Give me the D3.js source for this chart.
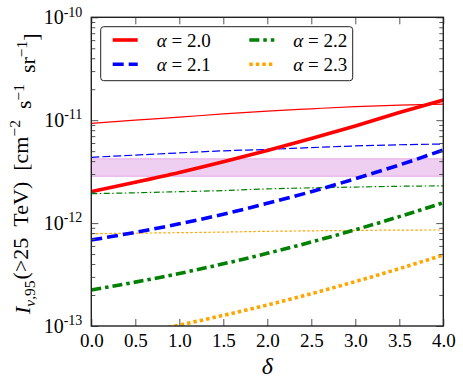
<!DOCTYPE html>
<html lang="en">
<head>
<meta charset="UTF-8">
<title>I_nu,95 vs delta</title>
<script src="https://cdn.jsdelivr.net/npm/d3@7/dist/d3.min.js"></script>
<style>
  body { margin: 0; background: #fff; }
  text { font-family: "Liberation Serif", "Times New Roman", serif; }
</style>
</head>
<body>
<script>
// delta grid
var deltas = [0, 0.5, 1.0, 1.5, 2.0, 2.5, 3.0, 3.5, 4.0];

// thick curves
var thick20 = [2.02e-12, 2.49e-12, 3.10e-12, 3.94e-12, 5.07e-12, 6.64e-12, 8.79e-12, 1.186e-11, 1.57e-11];
var thick21 = [6.85e-13, 8.13e-13, 9.84e-13, 1.22e-12, 1.556e-12, 2.02e-12, 2.70e-12, 3.67e-12, 5.13e-12];
var thick22 = [2.24e-13, 2.67e-13, 3.24e-13, 4.02e-13, 5.08e-13, 6.55e-13, 8.61e-13, 1.156e-12, 1.578e-12];
var thick23 = [7.03e-14, 8.39e-14, 1.02e-13, 1.27e-13, 1.60e-13, 2.06e-13, 2.70e-13, 3.61e-13, 4.90e-13];

// thin curves
var thin20 = [9.33e-12, 1.0e-11, 1.07e-11, 1.15e-11, 1.225e-11, 1.29e-11, 1.355e-11, 1.40e-11, 1.435e-11];
var thin21 = [4.36e-12, 4.58e-12, 4.81e-12, 5.04e-12, 5.20e-12, 5.42e-12, 5.62e-12, 5.77e-12, 5.87e-12];
var thin22 = [1.93e-12, 1.97e-12, 2.02e-12, 2.07e-12, 2.15e-12, 2.20e-12, 2.24e-12, 2.28e-12, 2.30e-12];
var thin23 = [7.89e-13, 7.98e-13, 8.07e-13, 8.18e-13, 8.32e-13, 8.41e-13, 8.49e-13, 8.55e-13, 8.57e-13];

// shaded band
var band = [2.85e-12, 4.22e-12];

var alphaLabels = ["2.0", "2.1", "2.2", "2.3"];
var colors = ["#ff0000", "#0000ff", "#008000", "#ffa500"];
var xTicks = [0, 0.5, 1.0, 1.5, 2.0, 2.5, 3.0, 3.5, 4.0];
var yMajor = [1e-13, 1e-12, 1e-11, 1e-10];

var W = 463, H = 388;
var m = {left: 91.3, right: 19.7, top: 17.3, bottom: 62};

var svg = d3.select("body").append("svg").attr("width", W).attr("height", H);

var x = d3.scaleLinear().domain([0, 4]).range([m.left, W - m.right]);
var y = d3.scaleLog().domain([1e-13, 1e-10]).range([H - m.bottom, m.top]);

svg.append("clipPath").attr("id", "clip").append("rect")
    .attr("x", m.left).attr("y", m.top)
    .attr("width", W - m.left - m.right).attr("height", H - m.top - m.bottom);

var plot = svg.append("g").attr("clip-path", "url(#clip)");

// band
plot.append("rect")
    .attr("x", x(0)).attr("width", x(4) - x(0))
    .attr("y", y(band[1])).attr("height", y(band[0]) - y(band[1]))
    .attr("fill", "#c040c8").attr("fill-opacity", 0.25)
    .attr("stroke", "#c040c8").attr("stroke-opacity", 0.35).attr("stroke-width", 1);

var thinDash = [null, "8,3", "6,2.5,1.5,2.5", "2.5,2"];
var thickDash = [null, "11,5", "10,4,3.5,4", "3.5,3"];

var line = d3.line()
    .x(function (d) { return x(d[0]); })
    .y(function (d) { return y(d[1]); })
    .curve(d3.curveMonotoneX);

function pairs(vals) {
    return deltas.map(function (d, i) { return [d, vals[i]]; });
}

var thinSets = [thin20, thin21, thin22, thin23];
var thickSets = [thick20, thick21, thick22, thick23];

thinSets.forEach(function (s, i) {
    plot.append("path").attr("d", line(pairs(s)))
        .attr("fill", "none").attr("stroke", colors[i]).attr("stroke-width", 1.2)
        .attr("stroke-dasharray", thinDash[i]);
});
thickSets.forEach(function (s, i) {
    plot.append("path").attr("d", line(pairs(s)))
        .attr("fill", "none").attr("stroke", colors[i]).attr("stroke-width", 3.6)
        .attr("stroke-dasharray", thickDash[i]);
});

// minor y ticks
var yMinor = [];
[1e-13, 1e-12, 1e-11].forEach(function (b) {
    for (var k = 2; k <= 9; k++) yMinor.push(b * k);
});

var tickCol = "#555";

function yAxisGroup(gen, tx) {
    var g = svg.append("g").attr("transform", "translate(" + tx + ",0)").call(gen);
    g.select(".domain").remove();
    g.selectAll(".tick line").attr("stroke", tickCol);
    return g;
}

// left
var gYL = yAxisGroup(d3.axisLeft(y).tickValues(yMajor).tickSize(-7).tickPadding(9), m.left);
yAxisGroup(d3.axisLeft(y).tickValues(yMinor).tickSize(-4).tickFormat(""), m.left);
// right
yAxisGroup(d3.axisRight(y).tickValues(yMajor).tickSize(-7).tickFormat(""), W - m.right);
yAxisGroup(d3.axisRight(y).tickValues(yMinor).tickSize(-4).tickFormat(""), W - m.right);

gYL.selectAll(".tick text").each(function (d) {
    var t = d3.select(this);
    var e = Math.round(Math.log10(d));
    t.text("").attr("font-size", 20).attr("fill", "#000");
    t.append("tspan").text("10");
    t.append("tspan").attr("font-size", 14).attr("dy", "-0.55em").text("-" + (-e));
});

// x axes
var gXB = svg.append("g").attr("transform", "translate(0," + (H - m.bottom) + ")")
    .call(d3.axisBottom(x).tickValues(xTicks).tickSize(-7).tickPadding(8).tickFormat(d3.format(".1f")));
gXB.select(".domain").remove();
gXB.selectAll(".tick line").attr("stroke", tickCol);
gXB.selectAll(".tick text").attr("font-size", 19).attr("fill", "#000");

var gXT = svg.append("g").attr("transform", "translate(0," + m.top + ")")
    .call(d3.axisTop(x).tickValues(xTicks).tickSize(-7).tickFormat(""));
gXT.select(".domain").remove();
gXT.selectAll(".tick line").attr("stroke", tickCol);

// frame
svg.append("rect")
    .attr("x", m.left).attr("y", m.top)
    .attr("width", W - m.left - m.right).attr("height", H - m.top - m.bottom)
    .attr("fill", "none").attr("stroke", "#222").attr("stroke-width", 1.4);

// x label
svg.append("text").attr("x", x(2)).attr("y", 374)
    .attr("text-anchor", "middle").attr("font-size", 24).attr("font-style", "italic")
    .text("\u03b4");

// y label
var yl = svg.append("text")
    .attr("transform", "translate(30," + ((m.top + H - m.bottom) / 2 + 2) + ") rotate(-90)")
    .attr("text-anchor", "middle").attr("font-size", 22)
    .attr("style", "white-space:pre");
yl.append("tspan").attr("font-style", "italic").text("I");
yl.append("tspan").attr("font-size", 15.5).attr("dy", "0.3em").attr("font-style", "italic").text("\u03bd");
yl.append("tspan").attr("font-size", 15.5).text(",95");
yl.append("tspan").attr("dy", "-0.3em").attr("dx", 1).text("(>25  TeV)  [cm");
yl.append("tspan").attr("font-size", 15.5).attr("dy", "-0.5em").text("\u22122");
yl.append("tspan").attr("dy", "0.5em").text("  s");
yl.append("tspan").attr("font-size", 15.5).attr("dy", "-0.5em").text("\u22121");
yl.append("tspan").attr("dy", "0.5em").text("  sr");
yl.append("tspan").attr("font-size", 15.5).attr("dy", "-0.5em").text("\u22121");
yl.append("tspan").attr("dy", "0.5em").text("]");

// legend
var lg = svg.append("g");
lg.append("rect").attr("x", 100.7).attr("y", 26.7).attr("width", 252).attr("height", 54)
    .attr("rx", 3).attr("fill", "#fff").attr("stroke", "#222").attr("stroke-width", 1);

var legPos = [[112.7, 40], [112.7, 64.3], [249.3, 40], [249.3, 64.3]];
alphaLabels.forEach(function (a, i) {
    var p = legPos[i];
    lg.append("line").attr("x1", p[0]).attr("x2", p[0] + 25).attr("y1", p[1]).attr("y2", p[1])
        .attr("stroke", colors[i]).attr("stroke-width", 3.6).attr("stroke-dasharray", thickDash[i]);
    var t = lg.append("text").attr("x", p[0] + 44).attr("y", p[1] + 6.5).attr("font-size", 19);
    t.append("tspan").attr("font-style", "italic").text("\u03b1");
    t.append("tspan").text(" = " + a);
});
</script>
</body>
</html>
